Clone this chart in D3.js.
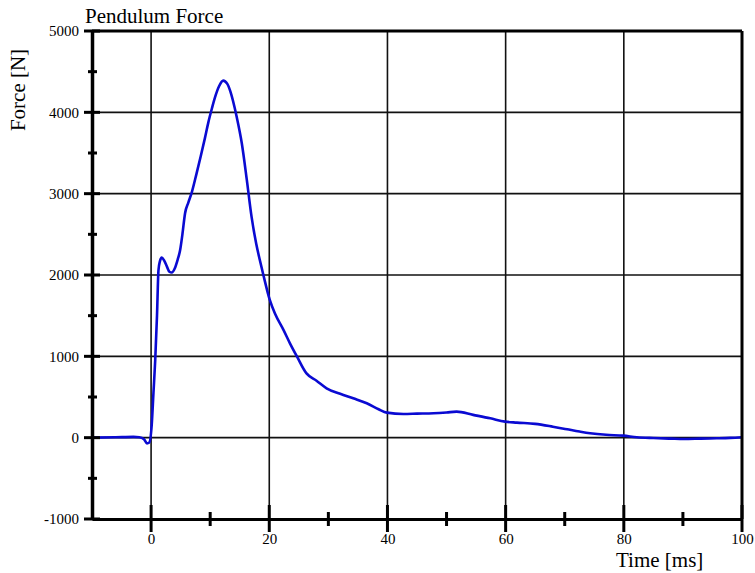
<!DOCTYPE html>
<html><head><meta charset="utf-8">
<script src="https://cdn.jsdelivr.net/npm/d3@7"></script>
<style>body{margin:0;background:#fff}svg{display:block}text{font-family:"Liberation Serif","Times New Roman",serif;fill:#000}</style>
</head><body>
<svg id="c" width="755" height="573"></svg>
<script>
const timeMs = [-10,-6,-3,-2,-1.2,-0.7,-0.3,0.1,0.4,0.7,1.0,1.25,1.5,1.8,2.2,2.7,3.1,3.5,4.0,4.5,4.9,5.3,5.75,6.3,6.9,7.7,8.4,9.1,9.7,10.3,10.8,11.5,12.2,12.9,13.4,13.9,14.5,15.35,16.2,17.0,17.8,18.4,19.0,20.1,21.0,22.4,23.5,24.7,26.3,28.0,29.7,32.0,34.2,36.5,38.5,39.9,42.7,45.0,47.8,50.0,51.7,54.5,57.4,59.9,61.9,65.0,68.0,70.4,72.5,74.3,77.0,79.9,82.2,85.0,88.0,90.1,93.0,95.7,98.0,100];
const forceN = [0,5,10,5,-20,-70,-60,150,550,955,1500,2060,2170,2215,2180,2100,2040,2030,2080,2190,2300,2500,2760,2890,3020,3250,3460,3680,3880,4050,4180,4320,4390,4350,4260,4130,3940,3620,3170,2717,2380,2185,2000,1690,1520,1325,1160,996,790,700,607,540,484,423,350,308,291,295,300,310,320,280,238,197,185,170,135,103,75,54,35,25,5,-5,-12,-16,-12,-8,-3,5];
const xTicks = [0,20,40,60,80,100];
const xMinor = [-10,10,30,50,70,90];
const yTicks = [-1000,0,1000,2000,3000,4000,5000];
const yMinor = [-500,500,1500,2500,3500,4500];
const titleText = "Pendulum Force";
const xLabel = "Time [ms]";
const yLabel = "Force [N]";

const svg = d3.select("#c");
const L=92,R=742,T=31,B=519;
const x = d3.scaleLinear().domain([-10,100]).range([L,R]);
const y = d3.scaleLinear().domain([-1000,5000]).range([B,T]);

const g = svg.append("g");
g.selectAll(".vg").data(xTicks.filter(d=>d>-10&&d<100)).join("line")
 .attr("x1",d=>x(d)).attr("x2",d=>x(d)).attr("y1",T).attr("y2",B)
 .attr("stroke","#111").attr("stroke-width",1.6);
g.selectAll(".hg").data(yTicks.filter(d=>d>-1000&&d<5000)).join("line")
 .attr("y1",d=>y(d)).attr("y2",d=>y(d)).attr("x1",L).attr("x2",R)
 .attr("stroke","#111").attr("stroke-width",1.6);

const line = d3.line().x((d,i)=>x(timeMs[i])).y(d=>y(d)).curve(d3.curveMonotoneX);
g.append("path").attr("d",line(forceN)).attr("fill","none")
 .attr("stroke","#0a0ad2").attr("stroke-width",2.6).attr("stroke-linejoin","round");

g.append("line").attr("x1",L).attr("x2",R).attr("y1",T).attr("y2",T).attr("stroke","#000").attr("stroke-width",3);
g.append("line").attr("x1",R).attr("x2",R).attr("y1",T).attr("y2",B).attr("stroke","#000").attr("stroke-width",3);

const fmt = d3.format("d");
const xAxis = d3.axisBottom(x).tickValues(xTicks).tickFormat(fmt).tickSize(0).tickPadding(14);
const ax = svg.append("g").attr("transform",`translate(0,${B})`).call(xAxis);
ax.attr("font-family",null);
ax.select(".domain").attr("stroke","#000").attr("stroke-width",3);
ax.selectAll("text").attr("font-size",15);
svg.selectAll(".xmaj").data(xTicks).join("line").attr("x1",d=>x(d)).attr("x2",d=>x(d)).attr("y1",B-14).attr("y2",B+13).attr("stroke","#000").attr("stroke-width",3);
svg.selectAll(".xmin").data(xMinor.filter(d=>d>-10)).join("line").attr("x1",d=>x(d)).attr("x2",d=>x(d)).attr("y1",B-7).attr("y2",B+7).attr("stroke","#000").attr("stroke-width",3);

const yAxis = d3.axisLeft(y).tickValues(yTicks).tickFormat(d=>d<0?"-"+Math.abs(d):fmt(d)).tickSize(0).tickPadding(13);
const ay = svg.append("g").attr("transform",`translate(${L},0)`).call(yAxis);
ay.attr("font-family",null);
ay.select(".domain").attr("stroke","#000").attr("stroke-width",3.5);
ay.selectAll("text").attr("font-size",15);
svg.selectAll(".ymaj").data(yTicks).join("line").attr("y1",d=>y(d)).attr("y2",d=>y(d)).attr("x1",L-8).attr("x2",L+8).attr("stroke","#000").attr("stroke-width",3);
svg.selectAll(".ymin").data(yMinor).join("line").attr("y1",d=>y(d)).attr("y2",d=>y(d)).attr("x1",L-4).attr("x2",L+5).attr("stroke","#000").attr("stroke-width",3);

svg.append("text").attr("x",85).attr("y",23).attr("font-size",21).text(titleText);
svg.append("text").attr("x",616).attr("y",567).attr("font-size",21).text(xLabel);
svg.append("text").attr("transform","translate(25,90) rotate(-90)").attr("text-anchor","middle").attr("font-size",21).text(yLabel);
</script>
</body></html>
